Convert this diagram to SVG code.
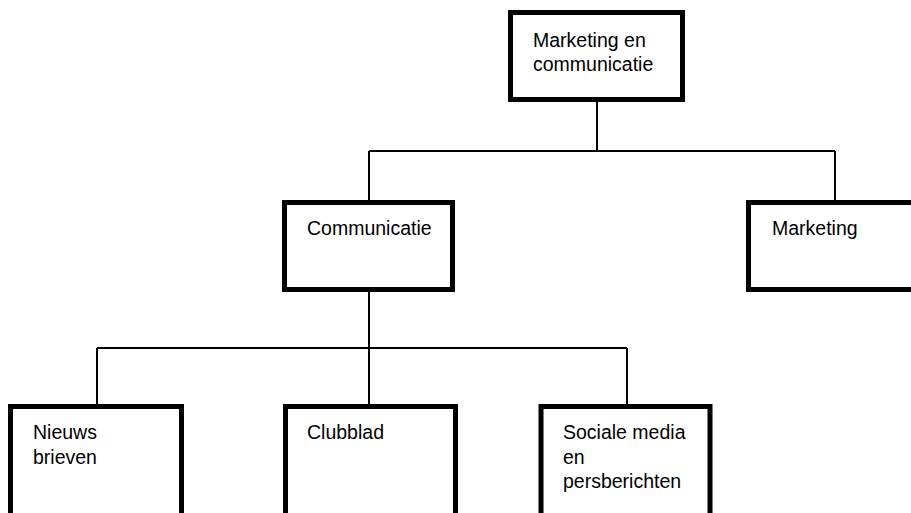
<svg xmlns="http://www.w3.org/2000/svg" width="911" height="513" viewBox="0 0 911 513">
<style>
.box{fill:#fff;stroke:#000;stroke-width:5}
.lbl{font-family:"Liberation Sans",Arial,sans-serif;font-size:19.5px;fill:#000}
.conn{fill:none;stroke:#000;stroke-width:2}
</style>
<rect width="911" height="513" fill="#fff"/>
<g id="connectors" class="conn">
<path d="M597 102 V151"/>
<path d="M369 151 H835"/>
<path d="M369 151 V200"/>
<path d="M835 151 V200"/>
<path d="M369 292 V404"/>
<path d="M97 348 H627"/>
<path d="M97 348 V404"/>
<path d="M627 348 V404"/>
</g>
<g id="node-marketing-communicatie">
<rect class="box" x="510.5" y="12.5" width="172" height="87"/>
<text class="lbl" x="533" y="47">Marketing en</text>
<text class="lbl" x="533" y="71">communicatie</text>
</g>
<g id="node-communicatie">
<rect class="box" x="284.5" y="202.5" width="168" height="87"/>
<text class="lbl" x="307" y="235">Communicatie</text>
</g>
<g id="node-marketing">
<rect class="box" x="748.5" y="202.5" width="168" height="87"/>
<text class="lbl" x="772" y="235">Marketing</text>
</g>
<g id="node-nieuwsbrieven">
<rect class="box" x="10.5" y="406.5" width="171" height="130"/>
<text class="lbl" x="33" y="439">Nieuws</text>
<text class="lbl" x="33" y="464">brieven</text>
</g>
<g id="node-clubblad">
<rect class="box" x="285.5" y="406.5" width="170" height="130"/>
<text class="lbl" x="307" y="439">Clubblad</text>
</g>
<g id="node-sociale-media">
<rect class="box" x="541" y="406.5" width="169" height="130"/>
<text class="lbl" x="563" y="439">Sociale media</text>
<text class="lbl" x="563" y="464">en</text>
<text class="lbl" x="563" y="488">persberichten</text>
</g>
</svg>
